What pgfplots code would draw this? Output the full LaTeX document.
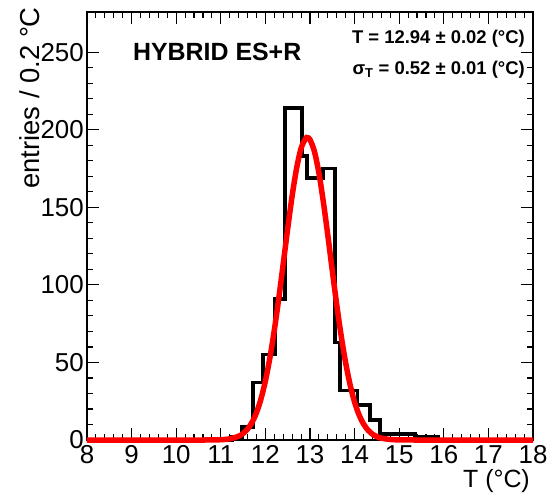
\documentclass[border=0pt]{standalone}
\usepackage{fontspec}
\setmainfont{Liberation Sans}
\usepackage{pgfplots}
\pgfplotsset{compat=1.18}
\begin{document}
\begin{tikzpicture}
\begin{axis}[
  width=446bp, height=428bp, scale only axis,
  xmin=8, xmax=18, ymin=0, ymax=276,
  xtick={8,9,...,18}, ytick={0,50,...,250},
  minor x tick num=4, minor y tick num=4,
  xtick pos=both, ytick pos=both,
  tick align=inside, major tick length=12bp, minor tick length=6bp,
  axis line style={line width=1.4bp},
  every tick/.style={line width=1.1bp, black},
  every minor tick/.style={line width=1.1bp, black},
  /pgf/number format/assume math mode=true,
  ticklabel style={font=\fontsize{26}{26}\selectfont},
  xticklabel style={inner sep=1bp, yshift=-4bp},
  yticklabel style={inner sep=2bp, xshift=-1bp},
  clip=false,
  xlabel={T (°C)},
  xlabel style={at={(rel axis cs:1,0)}, anchor=east, inner sep=0pt, xshift=-3bp, yshift=-41bp, font=\fontsize{25}{25}\selectfont},
  ylabel={entries / 0.2 °C},
  ylabel style={at={(rel axis cs:0,1)}, anchor=east, inner sep=0pt, xshift=5bp, yshift=57bp, font=\fontsize{27.5}{27.5}\selectfont},
]
\addplot[const plot, line width=3.5bp, black] coordinates {
(8,0) (11.25,2) (11.475,8.5) (11.72,37) (11.95,55) (12.215,91) (12.44,214)
(12.82,183) (12.93,169) (13.29,175) (13.56,63) (13.67,32) (14.07,22.5)
(14.34,13) (14.57,4) (15.35,2) (15.87,0) (18,0)};
\addplot[smooth, line width=5.5bp, color={rgb,255:red,255;green,0;blue,0}] coordinates {
(8,0) (10.6,0) (10.8,0.04) (11.0,0.19) (11.2,0.72) (11.4,2.43) (11.5,4.22) (11.6,7.05)
(11.7,11.36) (11.8,17.64) (11.9,26.39) (12.0,38.07) (12.1,52.9) (12.2,70.8)
(12.3,91.4) (12.4,113.7) (12.5,136.3) (12.6,157.5) (12.7,175.3) (12.8,188.1)
(12.9,194.4) (12.94,195) (13.0,193.7) (13.1,186.0) (13.2,172.1) (13.3,153.4)
(13.4,131.9) (13.5,109.2) (13.6,87.1) (13.7,67.0) (13.8,49.7) (13.9,35.5)
(14.0,24.4) (14.1,16.2) (14.2,10.36) (14.3,6.38) (14.4,3.79) (14.5,2.17)
(14.6,1.20) (14.8,0.33) (15.0,0.08) (15.2,0.02) (15.4,0) (18,0)};
\node[anchor=west, inner sep=0pt, font=\fontsize{25}{25}\selectfont\bfseries] at (axis cs:9.03,250) {HYBRID ES+R};
\node[anchor=east, inner sep=0pt, font=\fontsize{18.5}{18.5}\selectfont\bfseries] at (axis cs:17.82,259) {T = 12.94 ± 0.02 (°C)};
\node[anchor=east, inner sep=0pt, font=\fontsize{18.5}{18.5}\selectfont\bfseries] at (axis cs:17.82,239) {σ\textsubscript{T} = 0.52 ± 0.01 (°C)};
\coordinate (bl) at (rel axis cs:0,0);
\coordinate (tr) at (rel axis cs:1,1);
\end{axis}
\pgfresetboundingbox
\path ([shift={(-87bp,-59bp)}]bl) rectangle ([shift={(16bp,12bp)}]tr);
\end{tikzpicture}
\end{document}
